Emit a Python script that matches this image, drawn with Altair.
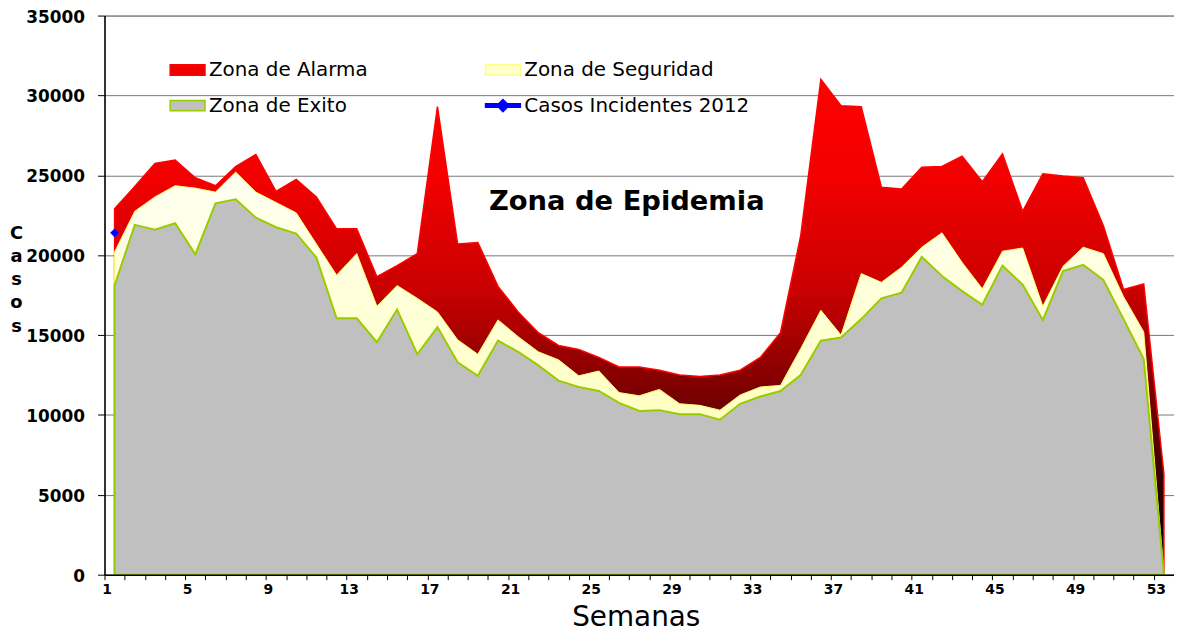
import altair as alt
import pandas as pd

# ---------------- data ----------------
semanas = list(range(1, 54))

zona_exito = [18100, 21900, 21600, 22000, 20050, 23250, 23500, 22350, 21750, 21350,
              19850, 16050, 16050, 14550, 16600, 13800, 15500, 13300, 12450, 14650,
              13950, 13100, 12150, 11750, 11500, 10750, 10250, 10300, 10050, 10050,
              9700, 10700, 11150, 11500, 12500, 14650, 14850, 16000, 17300, 17650,
              19900, 18700, 17750, 16900, 19350, 18150, 15950, 19000, 19400, 18450,
              16000, 13500, 0]

zona_seguridad = [20200, 22750, 23650, 24350, 24200, 23950, 25200, 23950, 23300, 22650,
                  20700, 18750, 20100, 16800, 18100, 17300, 16450, 14700, 13800, 15950,
                  14900, 13950, 13450, 12450, 12750, 11400, 11200, 11600, 10700, 10600,
                  10300, 11250, 11750, 11850, 14150, 16550, 15000, 18850, 18300, 19250,
                  20500, 21400, 19550, 17900, 20250, 20450, 16800, 19300, 20500, 20100,
                  17400, 15200, 0]

zona_alarma = [22900, 24300, 25750, 25950, 24850, 24350, 25550, 26300, 24000, 24750,
               23650, 21650, 21650, 18650, 19350, 20100, 29300, 20700, 20800, 18050,
               16450, 15150, 14350, 14100, 13600, 13000, 13000, 12800, 12500, 12400,
               12500, 12800, 13600, 15150, 21200, 31000, 29350, 29300, 24250, 24150,
               25500, 25550, 26200, 24600, 26350, 22750, 25100, 24950, 24850, 21850,
               17850, 18200, 6300]

casos_semanas = [1]
casos_2012 = [21400]

# legend entries (column-major order: left column first)
series = ["Zona de Alarma", "Zona de Exito", "Zona de Seguridad", "Casos Incidentes 2012"]
y_ticks = list(range(0, 35001, 5000))
x_ticks = [k + 0.5 for k in range(0, 54)]
annotation = ["Zona de Epidemia"]

df = pd.DataFrame({"semana": semanas, "exito": zona_exito,
                   "seguridad": zona_seguridad, "alarma": zona_alarma})
df_casos = pd.DataFrame({"semana": casos_semanas, "casos": casos_2012})
df_leg = pd.DataFrame({"serie": series})
df_txt = pd.DataFrame({"t": annotation})

# ---------------- styles ----------------
FONT = "DejaVu Sans"

red_grad = alt.LinearGradient(
    gradient="linear", x1=0, y1=0, x2=0, y2=1,
    stops=[alt.GradientStop(offset=0, color="#FF0000"),
           alt.GradientStop(offset=0.2, color="#F20000"),
           alt.GradientStop(offset=0.43, color="#C80000"),
           alt.GradientStop(offset=0.59, color="#8B0000"),
           alt.GradientStop(offset=0.8, color="#3A0000"),
           alt.GradientStop(offset=1, color="#000000")])

yellow_grad = alt.LinearGradient(
    gradient="linear", x1=0, y1=0, x2=0, y2=1,
    stops=[alt.GradientStop(offset=0, color="#FFFFF2"),
           alt.GradientStop(offset=0.5, color="#FFFFCC"),
           alt.GradientStop(offset=1, color="#FFFF99")])

x_scale = alt.Scale(domain=[0.5, 53.5], nice=False, zero=False)
y_scale = alt.Scale(domain=[0, 35000], nice=False)

x_axis = alt.Axis(
    values=x_ticks,
    labelExpr="(datum.value + 0.5) % 4 == 1 ? format(datum.value + 0.5, 'd') : ''",
    labelAlign="center", labelOffset=2, labelFlush=False, labelOverlap=False,
    labelFont=FONT, labelFontSize=14, labelFontWeight="bold", labelColor="black",
    labelPadding=3, tickSize=5, tickColor="black", tickWidth=1,
    domainColor="black", domainWidth=1.5, grid=False,
    title="Semanas", titleFont=FONT, titleFontSize=28, titleFontWeight="normal",
    titleColor="black", titleX=534, titleY=51, titleAlign="center",
    titleBaseline="alphabetic", zindex=1)

y_axis = alt.Axis(
    values=y_ticks, format="d",
    labelFont=FONT, labelFontSize=17, labelFontWeight="bold", labelColor="black",
    labelPadding=13, labelOffset=1.5, tickSize=7, tickColor="black", tickWidth=1,
    domainColor="black", domainWidth=1.5,
    grid=True, gridColor="#777777", gridWidth=1,
    title=["C", "a", "s", "o", "s"], titleAngle=0, titleX=-89, titleY=224,
    titleAlign="center", titleBaseline="alphabetic", titleFont=FONT,
    titleFontWeight="bold", titleFontSize=18, titleLineHeight=23.3,
    titleColor="black")


def X(field="semana"):
    return alt.X(f"{field}:Q", scale=x_scale, axis=x_axis)


def Y(field):
    return alt.Y(f"{field}:Q", scale=y_scale, axis=y_axis)


legend_def = alt.Legend(
    title=None, orient="none", legendX=65, legendY=36, columns=2,
    columnPadding=115, rowPadding=7, symbolSize=1225, symbolStrokeWidth=1.5,
    symbolOpacity=1, labelFont=FONT, labelFontSize=20, labelColor="black",
    labelOffset=3, labelLimit=400, padding=0)

leg_fill = ["#EE0000", "#C0C0C0", "#FFFFCC", "#0000FF"]
leg_stroke = ["#FF0000", "#99CC00", "#FFFF88", "#0000FF"]
rect_path = "M-1,-0.3H1V0.3H-1Z"
line_diamond = "M-1,-0.1H-0.25L0,-0.35L0.25,-0.1H1V0.1H0.25L0,0.35L-0.25,0.1H-1Z"
leg_shapes = [rect_path, rect_path, rect_path, line_diamond]

# ---------------- layers ----------------
legend_layer = alt.Chart(df_leg).mark_point(filled=True, opacity=0).encode(
    fill=alt.Fill("serie:N", scale=alt.Scale(domain=series, range=leg_fill), legend=legend_def),
    stroke=alt.Stroke("serie:N", scale=alt.Scale(domain=series, range=leg_stroke), legend=legend_def),
    shape=alt.Shape("serie:N", scale=alt.Scale(domain=series, range=leg_shapes), legend=legend_def),
)

red_area = alt.Chart(df).mark_area(
    fill=red_grad, stroke="#FF0000", strokeWidth=1.5, opacity=1, interpolate="linear"
).encode(x=X(), y=Y("alarma"))

yellow_area = alt.Chart(df).mark_area(
    fill=yellow_grad, stroke="#FFFF70", strokeWidth=1, opacity=1, interpolate="linear"
).encode(x=X(), y=Y("seguridad"))

gray_area = alt.Chart(df).mark_area(
    fill="#C0C0C0", stroke="#99CC00", strokeWidth=2, opacity=1, interpolate="linear"
).encode(x=X(), y=Y("exito"))

casos_pts = alt.Chart(df_casos).mark_point(
    shape="diamond", filled=True, size=80, color="#0000FF", opacity=1
).encode(x=X(), y=Y("casos"))

epidemia_txt = alt.Chart(df_txt).mark_text(
    font=FONT, fontWeight="bold", fontSize=27.5, align="center",
    baseline="alphabetic", color="black"
).encode(x=alt.value(525), y=alt.value(195), text="t:N")

chart = alt.layer(
    legend_layer, red_area, yellow_area, gray_area, casos_pts, epidemia_txt
).properties(
    width=1075, height=562,
    autosize=alt.AutoSizeParams(type="none"),
    padding={"left": 97, "top": 6, "right": 0, "bottom": 56},
    background="white",
).configure_view(stroke="#8c8c8c", strokeWidth=1)

chart.save("out.html", embed_options={"renderer": "svg", "actions": False})
